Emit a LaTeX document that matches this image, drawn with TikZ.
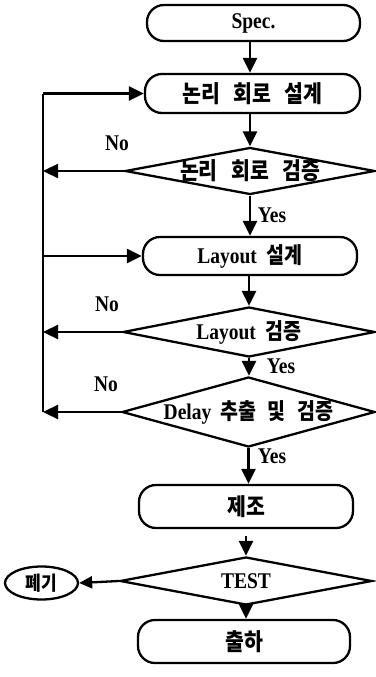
\documentclass[tikz,border=0pt]{standalone}
\usepackage{fontspec}
\usepackage{graphicx}
\setmainfont{Liberation Serif}
\newfontfamily\kr{Noto Sans CJK KR}
\newcommand{\vst}[1]{\scalebox{1}[1.15]{#1}}
\usetikzlibrary{shapes.geometric,arrows.meta}
\begin{document}
\begin{tikzpicture}[x=1pt,y=-1pt,
  every node/.style={font=\fontsize{19.5}{23}\selectfont\bfseries},
  lw/.style={line width=2.3pt},
  term/.style={draw, lw, rounded corners=17pt, inner sep=0pt},
  decide/.style={draw, lw, diamond, inner sep=0pt, aspect=5},
  arr/.style={lw, -{Triangle[length=15pt,width=14pt]}},
  sarr/.style={lw, -{Triangle[length=13pt,width=12pt]}},
  lbl/.style={inner sep=0pt},
  ko/.style={font=\fontsize{20.5}{24}\selectfont\kr\bfseries}]
\useasboundingbox (0,0) rectangle (375,677);
\node[term, minimum width=213pt, minimum height=36pt] (spec) at (253.5,23) {\vst{Spec.}};
\node[term, ko, minimum width=215pt, minimum height=39pt] (logic) at (252.5,93.5) {\vst{논리\hspace{.65em}회로\hspace{.65em}설계}};
\node[decide, ko, minimum width=250pt, minimum height=47pt] (d1) at (250,171) {\makebox[0pt]{\raisebox{-5pt}{\vst{논리\hspace{.65em}회로\hspace{.65em}검증}}}};
\node[term, minimum width=214pt, minimum height=38pt] (lay) at (250,256) {\vst{Layout\hspace{.5em}{\kr\bfseries 설계}}};
\node[decide, minimum width=252pt, minimum height=50pt] (d2) at (249,332) {\makebox[0pt]{\raisebox{-5pt}{\vst{Layout\hspace{.5em}{\kr\bfseries 검증}}}}};
\node[decide, minimum width=253pt, minimum height=70pt] (d3) at (248.5,412) {\makebox[0pt]{\raisebox{-2pt}{\vst{Delay\hspace{.45em}{\kr\bfseries 추출\hspace{.6em}및\hspace{.6em}검증}}}}};
\node[term, ko, minimum width=214pt, minimum height=43pt] (mfg) at (246,506.5) {\vst{제조}};
\node[decide, minimum width=252pt, minimum height=48pt] (test) at (246,581) {\makebox[0pt]{\vst{TEST}}};
\node[term, ko, minimum width=212pt, minimum height=43pt] (ship) at (244,641.5) {\vst{출하}};
\node[draw, lw, ellipse, inner sep=0pt, minimum width=73pt, minimum height=33pt, font=\fontsize{17}{20}\selectfont\kr\bfseries] (scrap) at (41.5,583) {\vst{폐기}};
\node[lbl] (no1) at (117,143) {\vst{No}};
\node[lbl] (no2) at (107,304) {\vst{No}};
\node[lbl] (no3) at (106,384) {\vst{No}};
\node[lbl] (y1) at (272,215) {\vst{Yes}};
\node[lbl] (y2) at (281,366) {\vst{Yes}};
\node[lbl] (y3) at (272,456) {\vst{Yes}};
\coordinate (lx) at (43,0);
\draw[lw] (lx |- logic.west) -- (lx |- d3.west);
\draw[arr] (lx |- logic.west) -- (logic.west);
\draw[arr] (lx |- lay.west) -- (lay.west);
\draw[arr] (d1.west) -- (lx |- d1.west);
\draw[arr] (d2.west) -- (lx |- d2.west);
\draw[arr] (d3.west) -- (lx |- d3.west);
\draw[sarr] (test.west) -- (scrap.east);
\draw[arr] (spec.south -| d1.north) -- (logic.north -| d1.north);
\draw[arr] (logic.south -| d1.north) -- (d1.north);
\draw[arr] (d1.south) -- (d1.south |- lay.north);
\draw[arr] (lay.south -| d2.north) -- (d2.north);
\draw[arr] (d2.south) -- (d2.south |- d3.north);
\draw[arr] (d3.south) -- (d3.south |- mfg.north);
\draw[arr] ([yshift=-7pt]mfg.south) -- (mfg.south |- test.north);
\draw[arr] (test.south) -- (test.south |- ship.north);
\end{tikzpicture}
\end{document}
